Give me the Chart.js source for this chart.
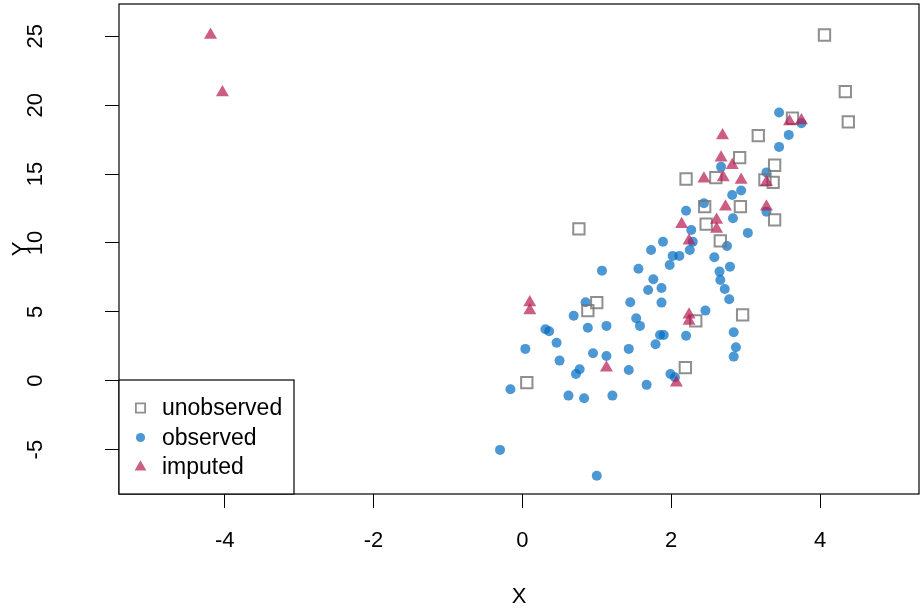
<!DOCTYPE html>
<html>
<head>
<meta charset="utf-8">
<script src="https://cdn.jsdelivr.net/npm/chart.js@4.4.0/dist/chart.umd.min.js"></script>
<style>
  body { margin: 0; background: #fff; }
</style>
</head>
<body>
<canvas id="grafico" width="920" height="614"></canvas>
<script>
// observados (puntos azules)
const obsX = [0.85, 1.45, 1.69, 0.69, 1.53, 1.58, 0.31, 0.36, 0.88, 1.13,
              0.46, 0.04, 0.95, 1.13, 1.43, 0.50, 0.77, 0.72, 1.43, 1.67,
              -0.16, 0.62, 0.83, 1.21, -0.30, 1.00, 1.87, 1.87, 2.72, 2.78,
              2.46, 1.85, 1.90, 1.79, 2.20, 2.84, 2.87, 2.84, 1.99, 2.05,
              3.45, 3.75, 3.58, 3.45, 3.28, 2.67, 2.94, 2.82, 3.28, 2.44,
              2.20, 2.83, 3.03, 2.27, 1.89, 2.29, 2.25, 2.75, 1.73, 2.58,
              2.02, 2.11, 1.98, 2.79, 1.56, 2.65, 2.66, 1.76, 1.07];
const obsY = [5.70, 5.70, 6.59, 4.72, 4.54, 3.98, 3.74, 3.59, 3.85, 3.98,
              2.76, 2.31, 2.00, 1.80, 2.31, 1.46, 0.83, 0.49, 0.78, -0.30,
              -0.62, -1.08, -1.27, -1.08, -5.02, -6.89, 6.73, 5.67, 6.66, 5.91,
              5.09, 3.32, 3.32, 2.65, 3.27, 3.52, 2.43, 1.75, 0.49, 0.25,
              19.47, 18.69, 17.84, 16.97, 15.12, 15.52, 13.80, 13.48, 12.27, 12.88,
              12.34, 11.79, 10.73, 10.94, 10.09, 10.09, 9.49, 9.78, 9.49, 8.96,
              9.06, 9.06, 8.40, 8.28, 8.13, 7.92, 7.31, 7.37, 7.99];

// no observados (cuadrados grises)
const unobsX = [4.06, 4.34, 4.38, 3.17, 3.63, 3.39, 3.26, 3.37, 2.92, 2.93,
                3.39, 2.20, 2.60, 2.45, 2.47, 2.66, 2.33, 2.96, 2.19, 1.00,
                0.88, 0.06, 0.76];
const unobsY = [25.09, 20.98, 18.78, 17.79, 19.05, 15.64, 14.57, 14.40, 16.19, 12.63,
                11.67, 14.64, 14.74, 12.63, 11.36, 10.15, 4.34, 4.78, 0.95, 5.67,
                5.09, -0.14, 11.02];

// imputados (triangulos rojos)
const impX = [-4.19, -4.03, 3.59, 3.75, 2.69, 2.67, 2.82, 2.44, 2.70, 2.94,
              3.28, 2.73, 3.28, 2.14, 2.61, 2.61, 2.24, 2.24, 2.24, 0.10,
              0.10, 1.13, 2.07];
const impY = [25.09, 20.92, 18.82, 18.89, 17.79, 16.19, 15.64, 14.66, 14.74, 14.57,
              14.40, 12.63, 12.63, 11.36, 11.67, 11.02, 10.15, 4.78, 4.34, 5.67,
              5.09, 0.95, -0.14];

const xTicks = [-4, -2, 0, 2, 4];
const yTicks = [-5, 0, 5, 10, 15, 20, 25];

const azul = 'rgba(0, 108, 194, 0.7)';
const rojo = 'rgba(182, 26, 81, 0.7)';
const gris = 'rgba(115, 115, 115, 0.8)';

const pares = (xs, ys) => xs.map((x, i) => ({ x: x, y: ys[i] }));

Chart.defaults.font.family = '"Liberation Sans", Arial, sans-serif';
Chart.defaults.color = '#000';

// sin relleno extra alrededor del area del grafico
const sinPadding = s => {
  s.paddingTop = 0;
  s.paddingBottom = 0;
  s.paddingLeft = 0;
  s.paddingRight = 0;
};

// marco del grafico (box() de R)
const marco = {
  id: 'marco',
  afterDraw(chart) {
    const a = chart.chartArea;
    const ctx = chart.ctx;
    ctx.save();
    ctx.strokeStyle = '#000';
    ctx.lineWidth = 1.2;
    ctx.strokeRect(a.left, a.top, a.right - a.left, a.bottom - a.top);
    ctx.restore();
  }
};

// leyenda abajo a la izquierda
const leyenda = {
  id: 'leyenda',
  afterDraw(chart) {
    const a = chart.chartArea;
    const ctx = chart.ctx;
    const top = 380;
    ctx.save();
    ctx.fillStyle = '#fff';
    ctx.fillRect(a.left, top, 175, a.bottom - top);
    ctx.strokeStyle = '#000';
    ctx.lineWidth = 1.2;
    ctx.strokeRect(a.left, top, 175, a.bottom - top);

    const items = [
      { txt: 'unobserved', estilo: 'rect', r: 6.5, fill: 'rgba(0,0,0,0)', borde: gris, bw: 1.8 },
      { txt: 'observed', estilo: 'circle', r: 4.6, fill: azul, borde: azul, bw: 0 },
      { txt: 'imputed', estilo: 'triangle', r: 6.8, fill: rojo, borde: rojo, bw: 0 }
    ];
    items.forEach((it, i) => {
      const y = 408 + i * 29.5;
      ctx.fillStyle = it.fill;
      ctx.strokeStyle = it.borde;
      ctx.lineWidth = it.bw;
      Chart.helpers.drawPoint(ctx, { pointStyle: it.estilo, radius: it.r, rotation: 0, borderWidth: it.bw }, 140.5, y);
      ctx.fillStyle = '#000';
      ctx.font = '23px "Liberation Sans", Arial, sans-serif';
      ctx.textBaseline = 'middle';
      ctx.textAlign = 'left';
      ctx.fillText(it.txt, 162, y + 1);
    });
    ctx.restore();
  }
};

new Chart(document.getElementById('grafico'), {
  type: 'scatter',
  data: {
    datasets: [
      {
        label: 'observed',
        data: pares(obsX, obsY),
        pointStyle: 'circle',
        pointRadius: 5,
        backgroundColor: azul,
        borderWidth: 0,
        order: 3
      },
      {
        label: 'unobserved',
        data: pares(unobsX, unobsY),
        pointStyle: 'rect',
        pointRadius: 8,
        backgroundColor: 'rgba(0,0,0,0)',
        borderColor: gris,
        borderWidth: 2,
        order: 2
      },
      {
        label: 'imputed',
        data: pares(impX, impY),
        pointStyle: 'triangle',
        pointRadius: 7.5,
        backgroundColor: rojo,
        borderWidth: 0,
        order: 1
      }
    ]
  },
  options: {
    responsive: false,
    animation: false,
    layout: { autoPadding: false, padding: { top: 4, right: 1, left: 0, bottom: 0 } },
    plugins: {
      legend: { display: false },
      tooltip: { enabled: false }
    },
    scales: {
      x: {
        type: 'linear',
        min: -5.42,
        max: 5.33,
        border: { display: false },
        grid: { drawOnChartArea: false, drawTicks: true, tickLength: 14, color: '#000', lineWidth: 1 },
        ticks: { font: { size: 22 }, padding: 20, maxRotation: 0 },
        afterBuildTicks: s => { s.ticks = xTicks.map(v => ({ value: v })); },
        afterFit: s => { s.height = 120; sinPadding(s); },
        title: { display: true, text: 'X', font: { size: 22 }, padding: { top: 4, bottom: 4 } }
      },
      y: {
        type: 'linear',
        min: -8.22,
        max: 27.34,
        border: { display: false },
        grid: { drawOnChartArea: false, drawTicks: true, tickLength: 14, color: '#000', lineWidth: 1 },
        ticks: { font: { size: 22 }, padding: 57, minRotation: 90, maxRotation: 90, crossAlign: 'center' },
        afterBuildTicks: s => { s.ticks = yTicks.map(v => ({ value: v })); },
        afterFit: s => { s.width = 119; sinPadding(s); },
        title: { display: true, text: 'Y', font: { size: 22 }, padding: { top: 8, bottom: 4 } }
      }
    }
  },
  plugins: [marco, leyenda]
});
</script>
</body>
</html>
